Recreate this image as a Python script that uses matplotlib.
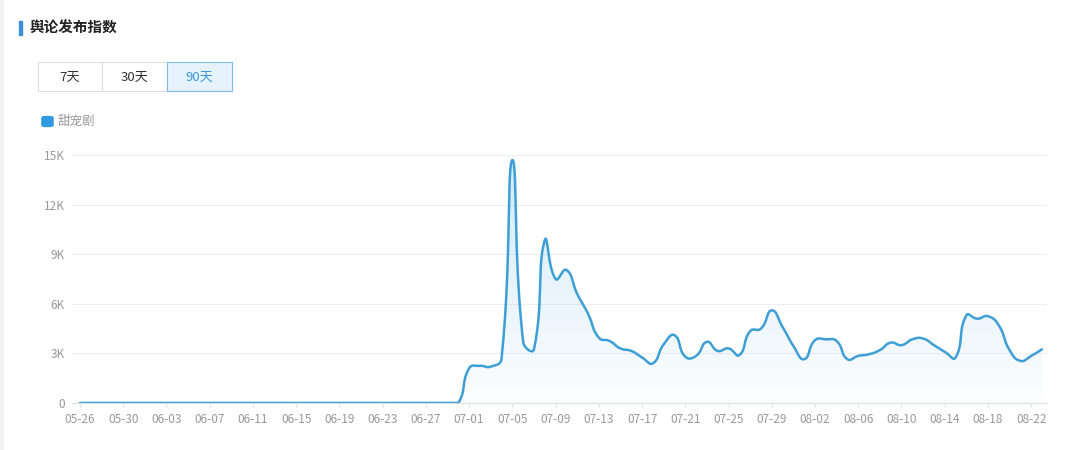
import numpy as np
import pandas as pd
import matplotlib
matplotlib.use("Agg")
import matplotlib.pyplot as plt
from matplotlib.patches import Rectangle, FancyBboxPatch

plt.rcParams['font.family'] = ['Noto Sans CJK SC', 'DejaVu Sans']

# ---- data ---------------------------------------------------------------
dates = pd.date_range('2021-05-26', periods=90).strftime('%m-%d').tolist()
series_name = '甜宠剧'
# daily index values (05-26 .. 08-23); flat zero until 06-30
values = [0] * 36 + [
    2100, 2250, 2200, 2700, 14700, 3700, 3250, 9850, 7500, 8050,
    6600, 5400, 3950, 3750, 3300, 3150, 2750, 2400, 3550, 4100,
    2800, 2850, 3700, 3150, 3300, 2900, 4350, 4500, 5600, 4600,
    3450, 2650, 3800, 3850, 3750, 2650, 2850, 2950, 3200, 3650,
    3500, 3850, 3900, 3500, 3100, 2750, 5300, 5100, 5250, 4700,
    3200, 2550, 2850, 3250,
]
y_ticks = [0, 3000, 6000, 9000, 12000, 15000]
y_labels = ['0', '3K', '6K', '9K', '12K', '15K']
buttons = ['7天', '30天', '90天']
selected = '90天'
title = '舆论发布指数'

LINE = '#3d9fd6'
GRAY = '#999999'

#===========================================================================#

def smooth_curve(x, y, sx, sy, smooth=0.5, n=30):
    """Bezier smoothing of a polyline in pixel space (control points clamped to data range)"""
    px = np.asarray(x, float) * sx
    py = np.asarray(y, float) * sy
    ymin, ymax = py.min(), py.max()
    k = len(px)
    cp0 = np.zeros((k, 2))
    cp1 = np.zeros((k, 2))
    for i in range(k):
        p = np.array([px[i], py[i]])
        if i == 0 or i == k - 1:
            cp0[i] = p
            cp1[i] = p
            continue
        prev = np.array([px[i - 1], py[i - 1]])
        nxt = np.array([px[i + 1], py[i + 1]])
        v = (nxt - prev) * smooth
        d0 = np.hypot(*(p - prev))
        d1 = np.hypot(*(p - nxt))
        s = d0 + d1
        d0, d1 = d0 / s, d1 / s
        cp0[i] = p - v * d0
        cp1[i] = p + v * d1
    cp0[:, 1] = np.clip(cp0[:, 1], ymin, ymax)
    cp1[:, 1] = np.clip(cp1[:, 1], ymin, ymax)
    t = np.linspace(0, 1, n)[:, None]
    out = []
    for i in range(k - 1):
        p0 = np.array([px[i], py[i]])
        p3 = np.array([px[i + 1], py[i + 1]])
        b = ((1 - t)**3 * p0 + 3 * (1 - t)**2 * t * cp1[i]
             + 3 * (1 - t) * t**2 * cp0[i + 1] + t**3 * p3)
        out.append(b if i == 0 else b[1:])
    out = np.vstack(out)
    return out[:, 0] / sx, out[:, 1] / sy

#===========================================================================#

fig = plt.figure(figsize=(10.8, 4.5), dpi=100)
W, H = 1080, 450

def fx(px):
    return px / W

def fy(py):
    return 1 - py / H

# header
fig.patches.append(Rectangle((fx(19), fy(35)), 2.5 / W, 14 / H, transform=fig.transFigure,
                             color='#3a8fd6', zorder=5))
fig.text(fx(29), fy(28), title, fontsize=10.5, fontweight='bold', color='#222222',
         va='center', ha='left')

# range buttons
bx = [38, 102, 167, 232]
for i, lab in enumerate(buttons):
    sel = lab == selected
    fig.patches.append(Rectangle((fx(bx[i]), fy(91)), (bx[i + 1] - bx[i]) / W, 29 / H,
                                 transform=fig.transFigure,
                                 facecolor='#e6f3fd' if sel else 'white',
                                 edgecolor='#7cbde9' if sel else '#dddddd',
                                 linewidth=0.8, zorder=4 if sel else 3))
    fig.text(fx((bx[i] + bx[i + 1]) / 2), fy(77), lab, fontsize=9.5,
             color='#3a96d8' if sel else '#333333', ha='center', va='center', zorder=6)

# legend
fig.patches.append(FancyBboxPatch((fx(43), fy(126)), 9 / W, 9 / H, transform=fig.transFigure,
                                  boxstyle='round,pad=0.001,rounding_size=0.003',
                                  color='#2f9ae0'))
fig.text(fx(58), fy(121), series_name, fontsize=9, color=GRAY, va='center', ha='left')

# chart
ax = fig.add_axes([fx(72), fy(403), (1047 - 72) / W, (403 - 155) / H])
x = np.arange(len(values))
xs, ys = smooth_curve(x, values, 10.81, 248 / 15000)

ax.plot(xs, ys, color=LINE, lw=1.8, zorder=4, solid_capstyle='round')
poly = ax.fill_between(xs, ys, 0, color='none', lw=0)

grad = np.zeros((256, 1, 4))
c = matplotlib.colors.to_rgb('#4aa6e0')
grad[:, 0, :3] = c
grad[:, 0, 3] = np.linspace(0.02, 0.24, 256)
im = ax.imshow(grad, aspect='auto', origin='lower', extent=[0, len(values) - 1, 0, max(values)],
               zorder=2)
im.set_clip_path(poly.get_paths()[0], transform=ax.transData)

ax.set_xlim(-8 / 10.81, len(values) - 1 + 5 / 10.81)
ax.set_ylim(0, 15000)
ax.set_yticks(y_ticks)
ax.set_yticklabels(y_labels)
ax.set_xticks(x[::4])
ax.set_xticklabels(dates[::4])
ax.grid(True, axis='y', color='#eeeeee', lw=0.8, zorder=0)
for s in ['top', 'right', 'left']:
    ax.spines[s].set_visible(False)
ax.spines['bottom'].set_color('#e0e0e0')
ax.tick_params(axis='y', length=0, pad=5, labelsize=8.5, labelcolor=GRAY)
ax.tick_params(axis='x', length=3, color='#e0e0e0', pad=4, labelsize=8.5, labelcolor=GRAY)
ax.set_axisbelow(True)

# faint left border of the panel
fig.patches.append(Rectangle((0, 0), 3 / W, 1, transform=fig.transFigure, color='#f2f2f2'))

fig.savefig('out.png', dpi=100, facecolor='white')
